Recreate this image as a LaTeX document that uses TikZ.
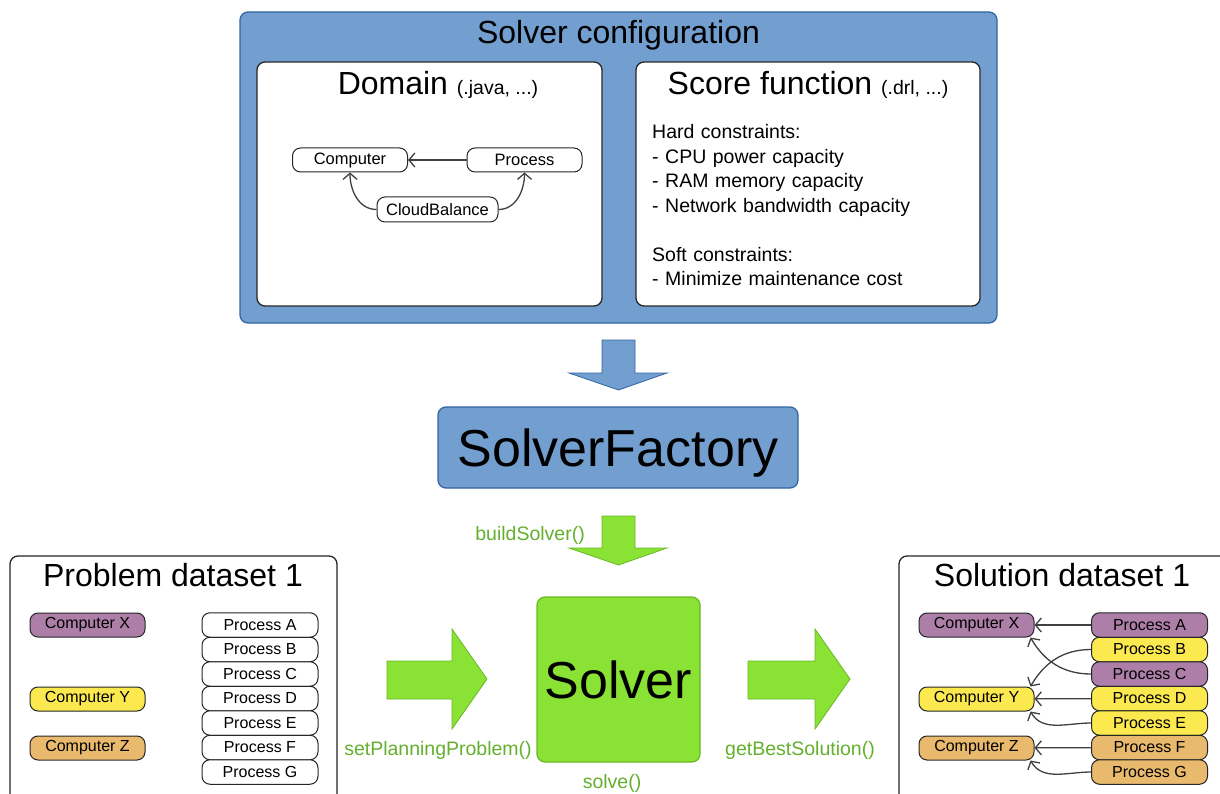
\documentclass[tikz,border=0pt]{standalone}
\usepackage{fontspec}
\setmainfont{Liberation Sans}
\usepackage{xcolor}
\usepackage{tikz}
\usetikzlibrary{arrows.meta}

\definecolor{cfgblue}{RGB}{114,159,207}
\definecolor{cfgline}{RGB}{52,101,164}
\definecolor{solvergreen}{RGB}{138,226,52}
\definecolor{solverline}{RGB}{104,184,38}
\definecolor{callgreen}{RGB}{100,175,45}
\definecolor{plum}{RGB}{173,127,168}
\definecolor{butter}{RGB}{252,233,79}
\definecolor{sand}{RGB}{233,185,110}

\newcommand\ttlfnt{\fontsize{32}{38}\selectfont}
\newcommand\subfnt{\fontsize{19.5}{24.5}\selectfont}
\newcommand\itmfnt{\fontsize{16}{19}\selectfont}
\newcommand\bigfnt{\fontsize{52}{60}\selectfont}

\begin{document}
\begin{tikzpicture}[x=1pt, y=1pt,
  panel/.style={draw=cfgline, fill=cfgblue, line width=1.3pt, rounded corners=8pt, inner sep=0pt},
  card/.style={draw=black!85, fill=white, line width=1.3pt, rounded corners=8pt, inner sep=0pt},
  ttl/.style={font=\ttlfnt, anchor=base, inner sep=0pt},
  pill/.style={draw=black!85, line width=1pt, rounded corners=8pt, inner sep=0pt, minimum height=24},
  dompill/.style={pill, fill=white, font=\fontsize{16.5}{19}\selectfont, minimum width=115},
  comp/.style={pill, font=\itmfnt, minimum width=115},
  proc/.style={pill, font=\itmfnt, minimum width=116, minimum height=24.5},
  link/.style={draw=black!75, line width=1.3pt, -{Straight Barb[length=6pt,width=14pt]}},
  bluearrow/.style={draw=cfgline, fill=cfgblue, line width=0.8pt},
  greenarrow/.style={draw=solverline, fill=solvergreen, line width=0.8pt},
  call/.style={text=callgreen, font=\subfnt, inner sep=0pt}]
  \useasboundingbox (0,0) rectangle (1220,-794);

  \node[panel, minimum width=757, minimum height=311] (cfg) at (618.5,-167.5) {};
  \node[ttl] (cfgtitle) at (618.5,-44) {Solver configuration};

  \node[card, minimum width=345, minimum height=244] (dombox) at (429.5,-184) {};
  \node[ttl] (domtitle) at (438,-95) {Domain {\subfnt (.java, ...)}};
  \node[dompill] (dcomp) at (350,-160) {Computer};
  \node[dompill] (dproc) at (524.5,-160) {Process};
  \node[dompill, minimum width=121, minimum height=25] (dcloud) at (437.5,-209.5) {CloudBalance};
  \draw[link] (dproc) -- (dcomp);
  \draw[link] (dcloud.west) to[out=180, in=-90] (dcomp.south);
  \draw[link] (dcloud.east) to[out=0, in=-90] (dproc.south);

  \node[card, minimum width=344, minimum height=244] (scorebox) at (808,-184) {};
  \node[ttl] (scoretitle) at (808,-95) {Score function {\subfnt (.drl, ...)}};
  \node[anchor=base west, align=left, text width=320, inner sep=0pt, font=\subfnt] (rules) at (652,-139)
    {Hard constraints:\\- CPU power capacity\\- RAM memory capacity\\- Network bandwidth capacity\\[24.5pt]Soft constraints:\\- Minimize maintenance cost};

  \draw[bluearrow] (602,-340) -- (635,-340) -- (635,-373) -- (667,-373) -- (618.5,-390) -- (569,-373) -- (602,-373) -- cycle;

  \node[panel, minimum width=360, minimum height=81, font=\bigfnt, text depth=0pt] (factory) at (618,-447.5) {SolverFactory};

  \draw[greenarrow] (602,-516) -- (635,-516) -- (635,-548) -- (667,-548) -- (618.5,-565) -- (569,-548) -- (602,-548) -- cycle;
  \node[call, anchor=base east] (build) at (585,-540) {buildSolver()};

  \node[draw=solverline, fill=solvergreen, line width=1.2pt, rounded corners=8pt, minimum width=163, minimum height=165, font=\bigfnt, text depth=0pt] (solver) at (618.5,-679.5) {Solver};
  \node[call, anchor=base] (solve) at (612,-788) {solve()};

  \draw[greenarrow] (387,-661) -- (452,-661) -- (452,-629) -- (487,-679) -- (452,-729) -- (452,-699) -- (387,-699) -- cycle;
  \node[call, anchor=base] (setprob) at (438,-755) {setPlanningProblem()};
  \draw[greenarrow] (748,-661) -- (815,-661) -- (815,-629) -- (850,-679) -- (815,-729) -- (815,-699) -- (748,-699) -- cycle;
  \node[call, anchor=base] (getbest) at (800,-755) {getBestSolution()};

  \node[card, minimum width=327, minimum height=254] (probbox) at (173.5,-683) {};
  \node[ttl] (probtitle) at (173,-586) {Problem dataset 1};
  \node[comp, fill=plum] (pX) at (87.5,-625) {Computer X};
  \node[comp, fill=butter] (pY) at (87.5,-699) {Computer Y};
  \node[comp, fill=sand] (pZ) at (87.5,-748) {Computer Z};
  \foreach \p/\y in {A/625,B/649.5,C/674,D/698.5,E/723,F/747.5,G/772}
    \node[proc, fill=white] (p\p) at (260,-\y) {Process \p};

  \node[card, minimum width=341, minimum height=254] (solbox) at (1069.5,-683) {};
  \node[ttl] (soltitle) at (1062,-586) {Solution dataset 1};
  \node[comp, fill=plum] (sX) at (976.5,-625) {Computer X};
  \node[comp, fill=butter] (sY) at (976.5,-699) {Computer Y};
  \node[comp, fill=sand] (sZ) at (976.5,-748) {Computer Z};
  \foreach \p/\y/\c in {A/625/plum,B/649.5/butter,C/674/plum,D/698.5/butter,E/723/butter,F/747.5/sand,G/772/sand}
    \node[proc, fill=\c] (s\p) at (1149.5,-\y) {Process \p};
  \draw[link] (sA) -- (sX);
  \draw[link] (sC.west) to[out=180, in=-60] ([xshift=-4pt]sX.south east);
  \draw[link] (sB.west) to[out=180, in=60] ([xshift=-4pt]sY.north east);
  \draw[link] (sD) -- (sY);
  \draw[link] (sE.west) to[out=180, in=-60] ([xshift=-4pt]sY.south east);
  \draw[link] (sF) -- (sZ);
  \draw[link] (sG.west) to[out=180, in=-60] ([xshift=-4pt]sZ.south east);
\end{tikzpicture}
\end{document}
